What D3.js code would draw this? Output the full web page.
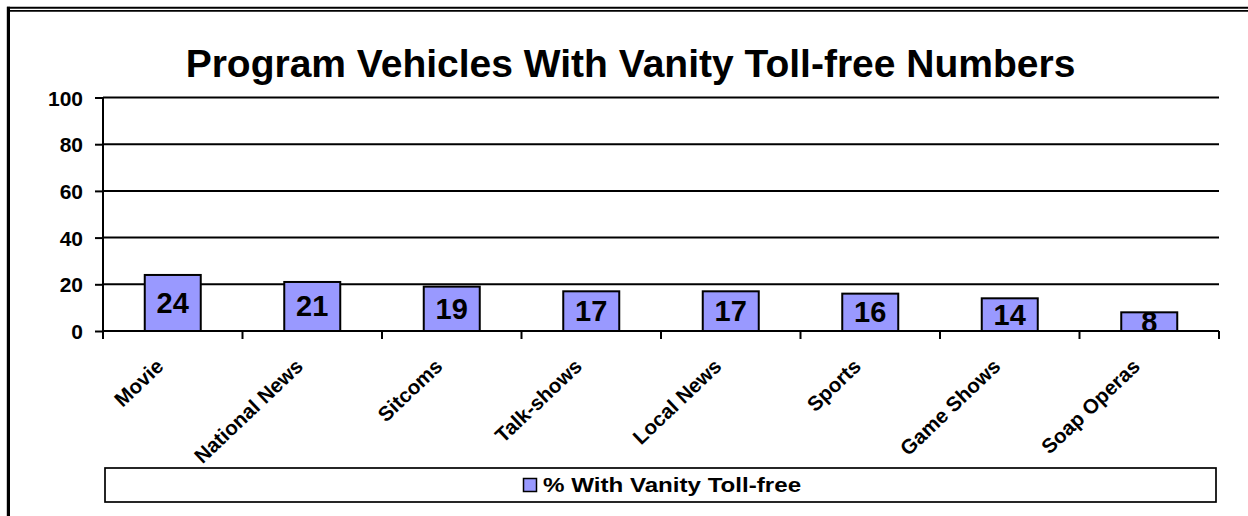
<!DOCTYPE html>
<html lang="en">
<head>
<meta charset="UTF-8">
<title>Program Vehicles With Vanity Toll-free Numbers</title>
<script src="https://d3js.org/d3.v7.min.js"></script>
<style>
	body{margin:0;background:#fff}
	svg{display:block}
	text{font-family:Arial,"Liberation Sans",sans-serif;font-weight:bold;fill:#000}
</style>
</head>
<body>
<svg id="chart" width="1248" height="516"></svg>
<script>
	// data
	var categories = ["Movie", "National News", "Sitcoms", "Talk-shows", "Local News", "Sports", "Game Shows", "Soap Operas"];
	var values = [24, 21, 19, 17, 17, 16, 14, 8];
	var yTicks = [0, 20, 40, 60, 80, 100];
	var seriesName = "% With Vanity Toll-free";
	var chartTitle = "Program Vehicles With Vanity Toll-free Numbers";

	var svg = d3.select("#chart");
	var barColor = "#9999ff";
	var plot = {left: 103, right: 1219, top: 97.5, bottom: 331};

	// outer frame: double line on top, thick line on the left
	svg.append("line").attr("x1", 7).attr("x2", 1248).attr("y1", 7.7).attr("y2", 7.7)
		.attr("stroke", "#000").attr("stroke-width", 2);
	svg.append("line").attr("x1", 9).attr("x2", 1248).attr("y1", 10.8).attr("y2", 10.8)
		.attr("stroke", "#000").attr("stroke-width", 1.7);
	svg.append("line").attr("x1", 8.4).attr("x2", 8.4).attr("y1", 6.7).attr("y2", 516)
		.attr("stroke", "#000").attr("stroke-width", 3.2);

	// title
	svg.append("text").attr("x", 630.5).attr("y", 76.5)
		.attr("text-anchor", "middle").style("font-size", "39px")
		.text(chartTitle);

	var x = d3.scaleBand().domain(categories).range([plot.left, plot.right]).paddingInner(0).paddingOuter(0);
	var y = d3.scaleLinear().domain([0, 100]).range([plot.bottom, plot.top]);

	// gridlines
	svg.append("g").selectAll("line").data(yTicks.filter(function (d) { return d > 0; }))
		.enter().append("line")
		.attr("x1", plot.left).attr("x2", plot.right)
		.attr("y1", function (d) { return y(d); }).attr("y2", function (d) { return y(d); })
		.attr("stroke", "#000").attr("stroke-width", 2);

	// y axis
	var yAxis = svg.append("g").attr("transform", "translate(" + plot.left + ",0)")
		.call(d3.axisLeft(y).tickValues(yTicks).tickSize(8).tickPadding(12));
	yAxis.select(".domain").attr("stroke", "#000").attr("stroke-width", 2).attr("d", "M0," + plot.bottom + "V" + plot.top);
	yAxis.selectAll(".tick line").attr("stroke", "#000").attr("stroke-width", 2);
	yAxis.selectAll(".tick text").style("font-size", "21px").style("font-family", "Arial, 'Liberation Sans', sans-serif")
		.style("font-weight", "bold").attr("fill", "#000").attr("dy", "0.36em");

	// bars
	var bw = 56;
	var bars = svg.append("g").selectAll("g").data(values).enter().append("g");
	bars.append("rect")
		.attr("x", function (d, i) { return x(categories[i]) + x.bandwidth() / 2 - bw / 2; })
		.attr("y", function (d) { return y(d); })
		.attr("width", bw)
		.attr("height", function (d) { return y(0) - y(d); })
		.attr("fill", barColor).attr("stroke", "#000").attr("stroke-width", 2);
	bars.append("text")
		.attr("x", function (d, i) { return x(categories[i]) + x.bandwidth() / 2; })
		.attr("y", function (d) { return (y(d) + y(0)) / 2 + 10; })
		.attr("text-anchor", "middle").style("font-size", "29px")
		.text(function (d) { return d; });

	// x axis with ticks at category boundaries
	svg.append("line").attr("x1", plot.left).attr("x2", plot.right)
		.attr("y1", plot.bottom).attr("y2", plot.bottom)
		.attr("stroke", "#000").attr("stroke-width", 2);
	var edges = categories.map(function (c) { return x(c); }).concat([plot.right]);
	svg.append("g").selectAll("line").data(edges).enter().append("line")
		.attr("x1", function (d) { return d; }).attr("x2", function (d) { return d; })
		.attr("y1", plot.bottom).attr("y2", plot.bottom + 8)
		.attr("stroke", "#000").attr("stroke-width", 2);

	svg.append("g").selectAll("text").data(categories).enter().append("text")
		.attr("text-anchor", "end")
		.style("font-size", "20.5px")
		.attr("transform", function (d) {
			return "translate(" + (x(d) + x.bandwidth() / 2 - 8) + "," + (plot.bottom + 37) + ") rotate(-43.5)";
		})
		.text(function (d) { return d; });

	// legend
	var lg = svg.append("g");
	lg.append("rect").attr("x", 105).attr("y", 468).attr("width", 1111).attr("height", 34)
		.attr("fill", "#fff").attr("stroke", "#000").attr("stroke-width", 1.7);
	lg.append("rect").attr("x", 523.5).attr("y", 478.5).attr("width", 13).attr("height", 13)
		.attr("fill", barColor).attr("stroke", "#000").attr("stroke-width", 1.5);
	lg.append("text").attr("x", 543).attr("y", 492.5).style("font-size", "21px")
		.attr("transform", "translate(543,0) scale(1.15,1) translate(-543,0)")
		.text(seriesName);
</script>
</body>
</html>
